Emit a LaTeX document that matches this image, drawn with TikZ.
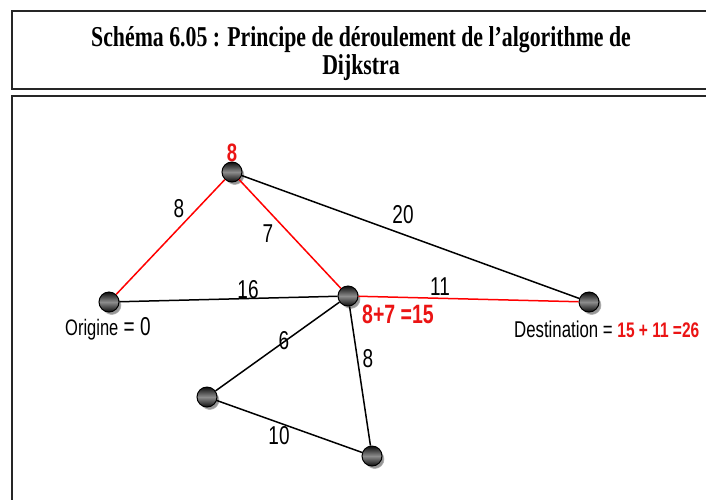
\documentclass[tikz,border=0pt]{standalone}
\usepackage{fontspec}
\setmainfont{Liberation Serif}
\newfontfamily\arial{Liberation Sans}
\usetikzlibrary{shadows}
\newcommand\vst[1]{\scalebox{1}[1.36]{#1}}
\newcommand\vstt[1]{\scalebox{1}[1.32]{#1}}
\definecolor{redlab}{RGB}{235,20,20}
\begin{document}
\begin{tikzpicture}[x=1pt,y=-1pt,
  vertex/.style={circle, minimum size=20pt, inner sep=0pt, draw=black, line width=1pt,
    top color=black!95, bottom color=black!95, middle color=black!45,
    circular drop shadow={shadow xshift=2.5pt, shadow yshift=-3pt, fill=black!55, opacity=0.75, shadow scale=1}},
  frame/.style={draw=black!85, line width=1.8pt},
  edgeb/.style={draw=black, line width=1.5pt},
  edger/.style={draw=red, line width=1.5pt},
  lbl/.style={inner sep=0pt, font=\arial\fontsize{19}{19}\selectfont},
  rlbl/.style={inner sep=0pt, text=redlab, font=\arial\bfseries\fontsize{19}{19}\selectfont},
  ttl/.style={inner sep=0pt, anchor=base, font=\bfseries\fontsize{21.8}{28}\selectfont}
]
\useasboundingbox (0,0) rectangle (706,499);
\fill[white] (0,0) rectangle (706,499);
\draw[frame] (12,11) rectangle (730,89);
\draw[frame] (12,96) rectangle (730,530);
\node[ttl] (title1) at (361,46) {\vstt{Schéma 6.05 : Principe de déroulement de l’algorithme de}};
\node[ttl] (title2) at (361,74) {\vstt{Dijkstra}};

\node[vertex] (A) at (232,172) {};
\node[vertex] (O) at (109,302) {};
\node[vertex] (C) at (348,296) {};
\node[vertex] (T) at (589,302) {};
\node[vertex] (D) at (207,397) {};
\node[vertex] (E) at (372,456) {};

\draw[edger] (O) -- (A);
\draw[edger] (A) -- (C);
\draw[edger] (C) -- (T);
\draw[edgeb] (A) -- (T);
\draw[edgeb] (O) -- (C);
\draw[edgeb] (C) -- (D);
\draw[edgeb] (C) -- (E);
\draw[edgeb] (D) -- (E);

\node[lbl] (lOA) at (179,209) {\vst{8}};
\node[lbl] (lAC) at (268,234) {\vst{7}};
\node[lbl] (lAT) at (403,215) {\vst{20}};
\node[lbl] (lOC) at (248,290) {\vst{16}};
\node[lbl] (lCT) at (440,287) {\vst{11}};
\node[lbl] (lCD) at (284,341) {\vst{6}};
\node[lbl] (lCE) at (368,359) {\vst{8}};
\node[lbl] (lDE) at (279,436) {\vst{10}};

\node[rlbl, font=\arial\bfseries\fontsize{18.5}{18.5}\selectfont] (vA) at (232,153) {\vst{8}};
\node[rlbl, anchor=base west, font=\arial\bfseries\fontsize{19.5}{19.5}\selectfont] (vC) at (362,323) {\vst{8+7 =15}};
\node[lbl, anchor=base west] (vO) at (65,335) {\vst{{\fontsize{16.5}{16.5}\selectfont Origine} = 0}};
\node[lbl, anchor=base west, font=\arial\fontsize{16.8}{16.8}\selectfont] (vT) at (514,337) {\vst{Destination = {\color{redlab}\bfseries\fontsize{15.5}{15.5}\selectfont 15 + 11 =26}}};
\end{tikzpicture}
\end{document}
